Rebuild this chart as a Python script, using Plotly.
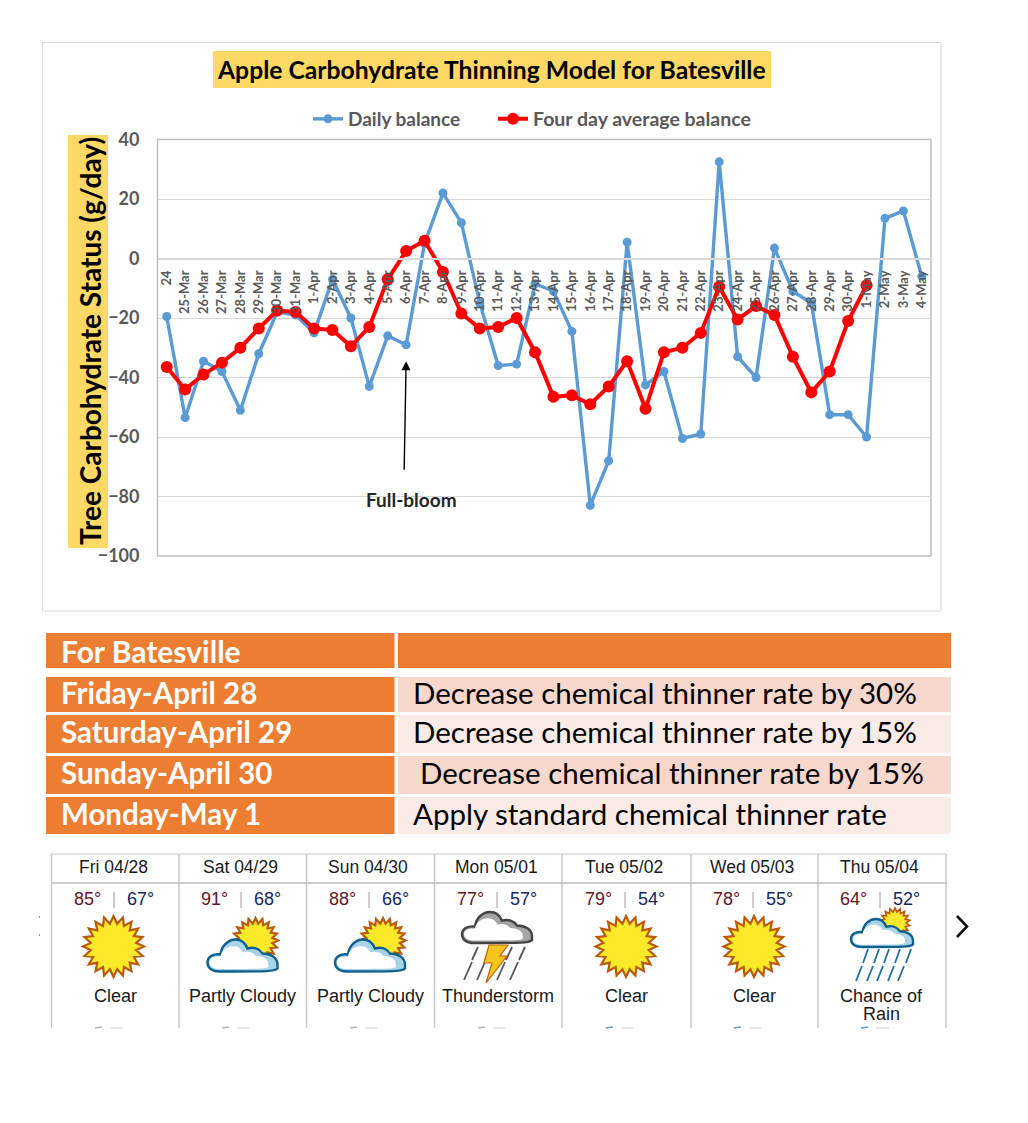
import math
import plotly.graph_objects as go

W, H = 1028, 1123

# ---------- chart data ----------
DAYS = ["24", "25-Mar", "26-Mar", "27-Mar", "28-Mar", "29-Mar", "30-Mar", "31-Mar",
        "1-Apr", "2-Apr", "3-Apr", "4-Apr", "5-Apr", "6-Apr", "7-Apr", "8-Apr", "9-Apr",
        "10-Apr", "11-Apr", "12-Apr", "13-Apr", "14-Apr", "15-Apr", "16-Apr", "17-Apr",
        "18-Apr", "19-Apr", "20-Apr", "21-Apr", "22-Apr", "23-Apr", "24-Apr", "25-Apr",
        "26-Apr", "27-Apr", "28-Apr", "29-Apr", "30-Apr", "1-May", "2-May", "3-May", "4-May"]
DAILY = [-19.5, -53.5, -34.5, -38, -51, -32, -18, -19, -25, -7, -20, -43, -26, -29, 5, 22, 12,
         -15, -36, -35.5, -8.5, -11, -24.5, -83, -68, 5.5, -42.5, -38, -60.5, -59, 32.5, -33, -40,
         3.5, -11, -15, -52.5, -52.5, -60, 13.5, 16, -6]
FOUR_DAY = [-36.5, -44, -39, -35, -30, -23.5, -17.5, -18, -23.5, -24, -29.5, -23, -7, 2.5, 6, -4.5,
            -18.5, -23.5, -23, -20, -31.5, -46.5, -46, -49, -43, -34.5, -50.5, -31.5, -30, -25,
            -9.5, -20.5, -16, -19, -33, -45, -38, -21, -9, None, None, None]

# ---------- table data ----------
TABLE_DAYS = ["Friday-April 28", "Saturday-April 29", "Sunday-April 30", "Monday-May 1"]
TABLE_ADVICE = ["Decrease chemical thinner rate by 30%", "Decrease chemical thinner rate by 15%",
                "Decrease chemical thinner rate by 15%", "Apply standard chemical thinner rate"]

# ---------- forecast data ----------
FC_DATES = ["Fri 04/28", "Sat 04/29", "Sun 04/30", "Mon 05/01", "Tue 05/02", "Wed 05/03", "Thu 05/04"]
FC_HIGH = [85, 91, 88, 77, 79, 78, 64]
FC_LOW = [67, 68, 66, 57, 54, 55, 52]
FC_DESC = ["Clear", "Partly Cloudy", "Partly Cloudy", "Thunderstorm", "Clear", "Clear", "Chance of<br>Rain"]

GREY = "#595959"
FONT = "Lato"


def px(x):
    return x / W


def py(y):
    return 1 - y / H


shapes, annos = [], []


def rect(x0, y0, x1, y1, fill=None, line=None, lw=1):
    shapes.append(dict(type="rect", xref="paper", yref="paper", x0=px(x0), x1=px(x1), y0=py(y0), y1=py(y1),
                       fillcolor=fill or "rgba(0,0,0,0)", line=dict(color=line or "rgba(0,0,0,0)", width=lw if line else 0)))


def seg(x0, y0, x1, y1, color, lw=1):
    shapes.append(dict(type="line", xref="paper", yref="paper", x0=px(x0), x1=px(x1), y0=py(y0), y1=py(y1),
                       line=dict(color=color, width=lw)))


def text(x, y, s, size, color="black", bold=False, anchor="center", family=FONT, angle=0):
    annos.append(dict(xref="paper", yref="paper", x=px(x), y=py(y), text=f"<b>{s}</b>" if bold else s,
                      showarrow=False, xanchor=anchor, yanchor="middle", textangle=angle, borderpad=0, borderwidth=0,
                      font=dict(family=family, size=size, color=color)))


def poly(points, fill, line=None, lw=1):
    d = "M " + " L ".join(f"{px(a):.5f},{py(b):.5f}" for a, b in points) + " Z"
    shapes.append(dict(type="path", xref="paper", yref="paper", path=d, fillcolor=fill,
                       line=dict(color=line or "rgba(0,0,0,0)", width=lw if line else 0)))


def sun(cx, cy, r_out, r_in, spikes=20, lw=2.2):
    pts = []
    for i in range(spikes * 2):
        r = r_out if i % 2 == 0 else r_in
        a = math.pi * i / spikes - math.pi / 2
        pts.append((cx + r * math.cos(a), cy + r * math.sin(a)))
    poly(pts, "#FBE92A", "#B85A08", lw)


CLOUD = [(12, 32), (4, 32), (0, 28), (0, 23), (0, 17), (6, 14), (13, 15), (14, 6), (21, 0), (28, 0),
         (34, 0), (38, 4), (40, 9), (46, 7), (52, 9), (55, 14), (63, 14), (70, 18), (70, 25),
         (70, 29), (67, 32), (62, 32)]


def cloud_path(x, y, sx, sy):
    p = [(px(x + a * sx), py(y + b * sy)) for a, b in CLOUD]
    d = f"M {p[0][0]:.5f},{p[0][1]:.5f} "
    for i in range(1, 19, 3):
        d += "C " + " ".join(f"{p[i + k][0]:.5f},{p[i + k][1]:.5f}" for k in range(3)) + " "
    d += f"L {p[19][0]:.5f},{p[19][1]:.5f} "
    d += "C " + " ".join(f"{q[0]:.5f},{q[1]:.5f}" for q in [p[20], p[21], p[0]]) + " Z"
    return d


def cloud(x, y, w, h, edge, shade):
    sx, sy = w / 70, h / 32
    shapes.append(dict(type="path", xref="paper", yref="paper", path=cloud_path(x, y, sx, sy),
                       fillcolor=shade, line=dict(color=edge, width=2.4)))
    shapes.append(dict(type="path", xref="paper", yref="paper",
                       path=cloud_path(x + 2, y + 0.2 * h, sx * 0.84, sy * 0.72),
                       fillcolor="white", line=dict(width=0, color="white")))


def rain(xs, y0, y1, dx, color, lw=1.8):
    for x in xs:
        seg(x, y0, x - dx, y1, color, lw)


# ---------- chart frame and labels ----------
rect(42.5, 42.5, 941, 611, None, "#D9D9D9", 1)
rect(213, 51, 771, 88, "#FFD966")
text(491, 69.5, "Apple Carbohydrate Thinning Model for Batesville", 24.7, bold=True)
rect(68, 135, 108, 548, "#FFD966")
text(90, 341, "Tree Carbohydrate Status (g/day)", 28, bold=True, angle=-90)
shapes.append(dict(type="rect", xref="x domain", yref="y domain", x0=0, x1=1, y0=0, y1=1,
                   line=dict(color="#BFBFBF", width=1.5), fillcolor="rgba(0,0,0,0)", layer="below"))

annos.append(dict(x="6-Apr", y=-34.5, xref="x", yref="y", ax=-2, ay=110, axref="pixel", ayref="pixel",
                  text="", showarrow=True, arrowhead=2, arrowsize=1.3, arrowwidth=1.4, arrowcolor="black"))
text(411, 499, "Full-bloom", 19, color="#262626", bold=True)

# ---------- table ----------
ORANGE = "#ED7D31"
rect(46, 633, 394.5, 668, ORANGE)
rect(398, 633, 951, 668, ORANGE)
text(61, 651, "For Batesville", 30, "white", True, "left")
ROWS = [(677, 712), (715, 753), (756, 794), (797, 834)]
BANDS = ["#F8D7CD", "#FBEBE7", "#F8D7CD", "#FBEBE7"]
LEFTS = [413, 413, 420, 413]
for (a, b), band, left, day, adv in zip(ROWS, BANDS, LEFTS, TABLE_DAYS, TABLE_ADVICE):
    rect(46, a, 394.5, b, ORANGE)
    rect(398, a, 951, b, band)
    text(61, (a + b) / 2 - 2.5, day, 29.5, "white", True, "left")
    text(left, (a + b) / 2 - 2.5, adv, 29.5, "black", False, "left")

# ---------- forecast strip ----------
LINE = "#C9C9C9"
EDGES = [51.5, 179, 306.5, 434.5, 562, 691, 818, 946]
CENTERS = [115, 242, 370, 498, 626, 754, 881]
for x in EDGES:
    seg(x, 854, x, 1028, LINE, 1.5)
seg(51, 854, 946, 854, LINE, 1.2)
seg(51, 883, 947, 883, "#BDBDBD", 1.6)
ARIAL = "Liberation Sans"
for i, c in enumerate(CENTERS):
    text(c - 2, 867, FC_DATES[i], 17.5, "#1a1a1a", family=ARIAL)
    text(c - 28, 899, f"{FC_HIGH[i]}°", 18, "#64161F", family=ARIAL)
    seg(c - 1, 892, c - 1, 908, "#C8C8C8", 1.8)
    text(c + 25, 899, f"{FC_LOW[i]}°", 18, "#14285A", family=ARIAL)
    if "<br>" in FC_DESC[i]:
        a, b = FC_DESC[i].split("<br>")
        text(c, 996, a, 18, "#1a1a1a", family=ARIAL)
        text(c, 1014, b, 18, "#1a1a1a", family=ARIAL)
    else:
        text(c, 996, FC_DESC[i], 18, "#1a1a1a", family=ARIAL)
    # the cut-off wind/precipitation row at the bottom edge
    tint = "#B5B5B5" if i < 4 else "#5E9FC9"
    seg(c - 20, 1028, c - 13, 1027, tint, 1.5)
    seg(c - 5, 1028, c + 8, 1028, "#D5D5D5", 1.2)

BLUE_EDGE = "#0F5F8F"
SHADE = "#A8D2E8"
sun(113.5, 946.5, 30.5, 23)
sun(626, 946.5, 30.5, 23)
sun(754, 946.5, 30.5, 23)
for x0 in (207.5, 335):
    sun(x0 + 48, 940.5, 22.5, 17)
    cloud(x0, 939.5, 70, 32, BLUE_EDGE, SHADE)

# thunderstorm
rain([478, 491, 512, 525], 947, 960, 6, "#555555", 1.8)
rain([472, 485, 505, 518], 962, 980, 8, "#555555", 1.8)
poly([(489, 945), (508, 945), (500, 956), (507, 956), (486, 983), (492, 963), (484, 963)], "#F7C520", "#C5600B", 1.2)
cloud(462, 912, 70, 31, "#444444", "#A5A5A5")

# chance of rain
sun(895, 923, 15, 11, 18, 1.6)
cloud(851, 919, 62, 28, BLUE_EDGE, SHADE)
rain([868, 879, 889, 900, 911], 949, 963, 5, "#1D6FA5", 1.8)
rain([862, 873, 883, 894, 904], 966, 981, 6, "#1D6FA5", 1.8)

# chevron and the two stray dots
shapes.append(dict(type="path", xref="paper", yref="paper",
                   path=f"M {px(957)},{py(916)} L {px(967)},{py(926.5)} L {px(957)},{py(937)}",
                   line=dict(color="#111111", width=2.6)))
rect(39, 916.5, 40, 917.5, "#333333")
rect(39, 934.5, 40, 935.5, "#333333")

# ---------- figure ----------
fig = go.Figure()
fig.add_trace(go.Scatter(x=DAYS, y=DAILY, name="Daily balance", mode="lines+markers", legend="legend",
                         line=dict(color="#5B9BD5", width=3.4), marker=dict(color="#5B9BD5", size=9)))
fig.add_trace(go.Scatter(x=DAYS, y=FOUR_DAY, name="Four day average balance", mode="lines+markers", legend="legend2",
                         line=dict(color="#FF0000", width=4), marker=dict(color="#FF0000", size=12)))

legend_common = dict(orientation="h", xanchor="left", yanchor="middle",
                     bgcolor="rgba(0,0,0,0)", itemsizing="trace")

fig.update_layout(
    width=W, height=H, autosize=False, margin=dict(l=0, r=0, t=0, b=0, pad=0, autoexpand=False),
    paper_bgcolor="white", plot_bgcolor="white", font=dict(family=FONT, color=GREY),
    showlegend=True, shapes=shapes, annotations=annos,
    legend=dict(x=px(308), y=py(119), font=dict(family=FONT, size=19, color=GREY, weight="bold"), **legend_common),
    legend2=dict(x=px(493), y=py(119), font=dict(family=FONT, size=19.5, color=GREY, weight="bold"), **legend_common),
    xaxis=dict(type="category", categoryorder="array", categoryarray=DAYS, range=[-0.5, 41.5],
               domain=[px(157.5), px(931)], anchor="free", position=py(258.5),
               tickmode="array", tickvals=DAYS, ticktext=DAYS, tickangle=-90, ticks="",
               showline=True, linecolor="#D9D9D9", linewidth=1.5, showgrid=False,
               tickfont=dict(family=FONT, size=13, color=GREY, weight="bold"), ticklabelstandoff=6),
    yaxis=dict(range=[-100, 40], dtick=20, tick0=-100, domain=[py(556), py(139.5)], anchor="free", position=px(157.5),
               showgrid=True, gridcolor="#D9D9D9", gridwidth=1.2, zeroline=False, ticks="",
               tickfont=dict(family=FONT, size=18, color=GREY, weight="bold"), ticklabelstandoff=18,
               showline=False),
)

fig.write_html("out.html", config=dict(displayModeBar=False),
               post_script="document.body.style.margin='0';document.documentElement.style.overflow='hidden';")
